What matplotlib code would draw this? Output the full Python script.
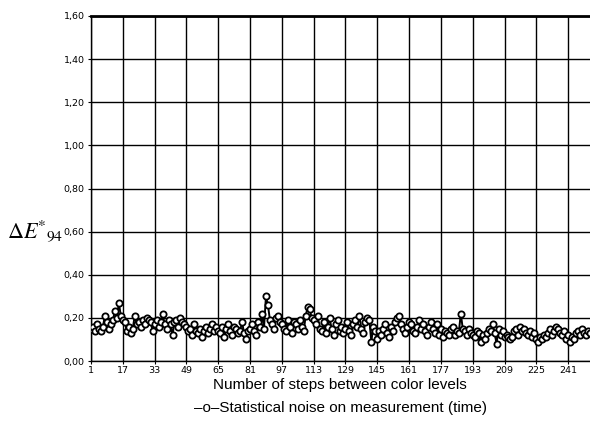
#!/usr/bin/env python3

import matplotlib
matplotlib.use('Agg')
import matplotlib.pyplot as plt
from matplotlib.ticker import FuncFormatter


# ------------------------------------------------------------------------------
# data: delta E*94, one value per step (1 .. 252)
noise = [
    0.15, 0.16, 0.14, 0.17, 0.15, 0.14, 0.16, 0.21, 0.18, 0.15, 0.17, 0.19, 0.23, 0.20, 0.27, 0.21,
    0.19, 0.18, 0.14, 0.16, 0.13, 0.15, 0.21, 0.17, 0.18, 0.16, 0.19, 0.17, 0.20, 0.19, 0.18, 0.14,
    0.17, 0.19, 0.16, 0.18, 0.22, 0.17, 0.15, 0.19, 0.17, 0.12, 0.18, 0.19, 0.16, 0.20, 0.18, 0.17,
    0.16, 0.14, 0.15, 0.12, 0.17, 0.14, 0.13, 0.15, 0.11, 0.14, 0.16, 0.13, 0.15, 0.17, 0.14, 0.16,
    0.14, 0.13, 0.16, 0.11, 0.15, 0.17, 0.14, 0.12, 0.16, 0.15, 0.13, 0.14, 0.18, 0.13, 0.10, 0.14,
    0.15, 0.17, 0.14, 0.12, 0.18, 0.16, 0.22, 0.15, 0.30, 0.26, 0.19, 0.17, 0.15, 0.20, 0.21, 0.18,
    0.17, 0.15, 0.14, 0.19, 0.16, 0.13, 0.18, 0.17, 0.15, 0.19, 0.16, 0.14, 0.21, 0.25, 0.24, 0.20,
    0.19, 0.17, 0.21, 0.15, 0.14, 0.18, 0.13, 0.16, 0.20, 0.15, 0.12, 0.17, 0.19, 0.14, 0.16, 0.13,
    0.15, 0.18, 0.14, 0.12, 0.17, 0.19, 0.16, 0.21, 0.15, 0.13, 0.18, 0.20, 0.19, 0.09, 0.16, 0.14,
    0.10, 0.14, 0.12, 0.15, 0.17, 0.13, 0.11, 0.16, 0.14, 0.18, 0.20, 0.21, 0.17, 0.15, 0.13, 0.16,
    0.18, 0.17, 0.14, 0.13, 0.16, 0.19, 0.15, 0.17, 0.14, 0.12, 0.16, 0.18, 0.15, 0.13, 0.17, 0.12,
    0.15, 0.11, 0.14, 0.13, 0.12, 0.15, 0.16, 0.12, 0.14, 0.13, 0.22, 0.15, 0.14, 0.12, 0.15, 0.13,
    0.12, 0.11, 0.14, 0.13, 0.09, 0.12, 0.10, 0.13, 0.15, 0.14, 0.17, 0.13, 0.08, 0.15, 0.12, 0.14,
    0.11, 0.12, 0.11, 0.10, 0.11, 0.14, 0.15, 0.12, 0.16, 0.14, 0.15, 0.13, 0.12, 0.14, 0.11, 0.13,
    0.10, 0.09, 0.11, 0.10, 0.12, 0.11, 0.13, 0.15, 0.12, 0.14, 0.16, 0.15, 0.13, 0.12, 0.14, 0.10,
    0.12, 0.09, 0.11, 0.10, 0.13, 0.14, 0.12, 0.15, 0.13, 0.12, 0.14, 0.13,
]
steps = list(range(1, len(noise) + 1))

x_ticks = list(range(1, 242, 16))
y_ticks = [0.0, 0.2, 0.4, 0.6, 0.8, 1.0, 1.2, 1.4, 1.6]


# ------------------------------------------------------------------------------
#
def main():

    fig = plt.figure(figsize=(5.9, 4.29), dpi=100)
    ax  = fig.add_axes([91 / 590, 1 - 361 / 429, 499 / 590, 345 / 429])

    ax.plot(steps, noise, color='black', linewidth=1.4, marker='o',
            markersize=4.5, markerfacecolor='white', markeredgecolor='black',
            markeredgewidth=1.3, zorder=3)

    ax.set_xlim(1, 252)
    ax.set_ylim(0, 1.6)
    ax.set_xticks(x_ticks)
    ax.set_yticks(y_ticks)
    ax.yaxis.set_major_formatter(
        FuncFormatter(lambda v, p: ('%.2f' % v).replace('.', ',')))

    ax.grid(True, color='black', linewidth=1.0)
    ax.set_axisbelow(True)

    for lab in ax.get_xticklabels() + ax.get_yticklabels():
        lab.set_fontfamily(['Liberation Sans Narrow', 'DejaVu Sans'])
        lab.set_fontsize(6.8)
    ax.tick_params(axis='both', length=2, width=0.8, color='black')
    ax.tick_params(axis='x', pad=1.5)
    ax.tick_params(axis='y', pad=2.5)

    for side in ['left', 'bottom']:
        ax.spines[side].set_linewidth(1.0)
    ax.spines['top'].set_linewidth(2.0)
    ax.spines['right'].set_visible(False)

    fig.text(0.012, 0.445, r'$\Delta E{}^{*}{}_{94}$', fontsize=16,
             family='serif', math_fontfamily='stix')

    fig.text(340 / 590, 1 - 385 / 429, 'Number of steps between color levels',
             ha='center', va='center', fontsize=11,
             family=['Liberation Sans', 'DejaVu Sans'])
    fig.text(340 / 590, 1 - 408 / 429,
             '\u2013o\u2013Statistical noise on measurement (time)',
             ha='center', va='center', fontsize=11,
             family=['Liberation Sans', 'DejaVu Sans'])

    fig.savefig('out.png', dpi=100)


# ------------------------------------------------------------------------------
#
if __name__ == '__main__':

    main()
